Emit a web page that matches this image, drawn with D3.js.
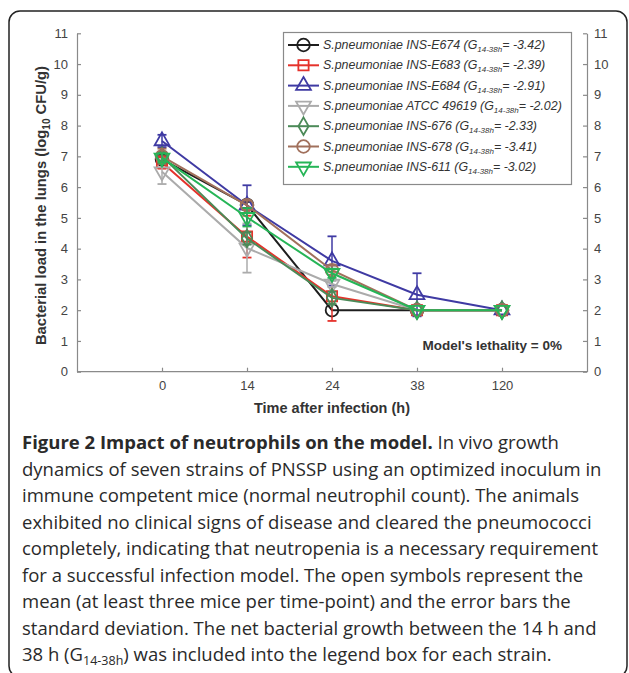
<!DOCTYPE html>
<html>
<head>
<meta charset="utf-8">
<script src="https://cdn.jsdelivr.net/npm/d3@7"></script>
<style>
  body { margin: 0; background: #fff; }
  svg { display: block; }
</style>
</head>
<body>
<script>
// time points (categorical axis)
var times = ["0", "14", "24", "38", "120"];

var strains = ["S.pneumoniae INS-E674", "S.pneumoniae INS-E683", "S.pneumoniae INS-E684",
  "S.pneumoniae ATCC 49619", "S.pneumoniae INS-676", "S.pneumoniae INS-678", "S.pneumoniae INS-611"];
var gValues = ["-3.42", "-2.39", "-2.91", "-2.02", "-2.33", "-3.41", "-3.02"];
var colors = ["#1e1e1e", "#e5322b", "#3f3aa3", "#ababab", "#4b8a58", "#a1705c", "#26b557"];
var symbols = ["circle", "square", "triangleUp", "triangleDown", "diamond", "circle", "triangleDown"];

// mean log10 CFU/g
var e674 = [6.9, 5.42, 2.0, 2.0, 2.0];
var e683 = [6.8, 4.39, 2.45, 2.0, 2.0];
var e684 = [7.5, 5.41, 3.6, 2.5, 2.0];
var atcc = [6.5, 4.02, 2.85, 2.0, 2.0];
var i676 = [7.0, 4.33, 2.4, 2.0, 2.0];
var i678 = [7.0, 5.41, 3.3, 2.0, 2.0];
var i611 = [6.95, 5.02, 3.2, 2.0, 2.0];

// standard deviations
var e674sd = [0.15, 0.1, 0, 0, 0];
var e683sd = [0.2, 0.68, 0.8, 0, 0];
var e684sd = [0.2, 0.65, 0.8, 0.7, 0];
var atccsd = [0.4, 0.8, 0.1, 0, 0];
var i676sd = [0.15, 0.2, 0.2, 0, 0];
var i678sd = [0.25, 0.15, 0.15, 0, 0];
var i611sd = [0.15, 0.3, 0.15, 0, 0];

var means = [e674, e683, e684, atcc, i676, i678, i611];
var sds = [e674sd, e683sd, e684sd, atccsd, i676sd, i678sd, i611sd];

var captionLines = [
  "dynamics of seven strains of PNSSP using an optimized inoculum in",
  "immune competent mice (normal neutrophil count). The animals",
  "exhibited no clinical signs of disease and cleared the pneumococci",
  "completely, indicating that neutropenia is a necessary requirement",
  "for a successful infection model. The open symbols represent the",
  "mean (at least three mice per time-point) and the error bars the",
  "standard deviation. The net bacterial growth between the 14 h and"
];

var width = 629, height = 673;
var margin = {left: 77, right: 42, top: 33.3, bottom: 301.3};

var svg = d3.select("body").append("svg")
  .attr("width", width)
  .attr("height", height);

// outer frame
svg.append("rect")
  .attr("x", 9).attr("y", 11)
  .attr("width", 618).attr("height", 666)
  .attr("rx", 11)
  .attr("fill", "none")
  .attr("stroke", "#222")
  .attr("stroke-width", 1.5);

var x = d3.scalePoint().domain(times).range([margin.left, width - margin.right]).padding(1);
var y = d3.scaleLinear().domain([0, 11]).range([height - margin.bottom, margin.top]);

function styleAxis(g){
  g.selectAll("path, line").attr("stroke", "#8a8a8a").attr("stroke-width", 1.2);
  g.selectAll("text").attr("fill", "#444").attr("font-size", 13)
    .attr("font-family", "Liberation Sans, Arial, sans-serif");
}

svg.append("g")
  .attr("transform", "translate(" + margin.left + ",0)")
  .call(d3.axisLeft(y).ticks(11).tickSize(-4).tickSizeOuter(0).tickPadding(9))
  .call(styleAxis);

svg.append("g")
  .attr("transform", "translate(" + (width - margin.right) + ",0)")
  .call(d3.axisRight(y).ticks(11).tickSize(-4).tickSizeOuter(0).tickPadding(7))
  .call(styleAxis);

var xAxis = d3.axisBottom(x).tickSize(-4).tickSizeOuter(0).tickPadding(9);
var xg = svg.append("g")
  .attr("transform", "translate(0," + y(0) + ")")
  .call(xAxis)
  .call(styleAxis);
xg.select(".domain").attr("d", "M" + margin.left + ",0H" + (width - margin.right));

// axis titles
var yt = svg.append("text")
  .attr("transform", "translate(46," + ((y(0) + y(11)) / 2 + 3) + ") rotate(-90)")
  .attr("text-anchor", "middle")
  .attr("font-family", "Liberation Sans, Arial, sans-serif")
  .attr("font-weight", "bold")
  .attr("font-size", 14.8)
  .attr("fill", "#333");
yt.append("tspan").text("Bacterial load in the lungs (log");
yt.append("tspan").attr("font-size", 10).attr("dy", 4).text("10");
yt.append("tspan").attr("dy", -4).text(" CFU/g)");

svg.append("text")
  .attr("x", (margin.left + width - margin.right) / 2)
  .attr("y", 413)
  .attr("text-anchor", "middle")
  .attr("font-family", "Liberation Sans, Arial, sans-serif")
  .attr("font-weight", "bold")
  .attr("font-size", 14.5)
  .attr("fill", "#333")
  .text("Time after infection (h)");

svg.append("text")
  .attr("x", 562)
  .attr("y", 350)
  .attr("text-anchor", "end")
  .attr("font-family", "Liberation Sans, Arial, sans-serif")
  .attr("font-weight", "bold")
  .attr("font-size", 13.5)
  .attr("fill", "#333")
  .text("Model's lethality = 0%");

var symType = {
  circle: d3.symbolCircle, square: d3.symbolSquare, triangleUp: d3.symbolTriangle,
  triangleDown: d3.symbolTriangle, diamond: d3.symbolDiamond
};
var symSize = {circle: 125, square: 105, triangleUp: 95, triangleDown: 95, diamond: 90};

function drawMarker(g, kind, color, cx, cy){
  g.append("path")
    .attr("d", d3.symbol().type(symType[kind]).size(symSize[kind])())
    .attr("transform", "translate(" + cx + "," + cy + ")" + (kind === "triangleDown" ? " rotate(180)" : ""))
    .attr("fill", "none")
    .attr("stroke", color)
    .attr("stroke-width", 1.8);
}

var line = d3.line()
  .x(function(d, i){ return x(times[i]); })
  .y(function(d){ return y(d); });

var plot = svg.append("g");

means.forEach(function(m, k){
  var g = plot.append("g");
  // error bars
  m.forEach(function(v, i){
    var sd = sds[k][i];
    if (sd <= 0) return;
    var cx = x(times[i]);
    g.append("line")
      .attr("x1", cx).attr("x2", cx)
      .attr("y1", y(v - sd)).attr("y2", y(v + sd))
      .attr("stroke", colors[k]).attr("stroke-width", 1.5);
    [v - sd, v + sd].forEach(function(e){
      g.append("line")
        .attr("x1", cx - 4.5).attr("x2", cx + 4.5)
        .attr("y1", y(e)).attr("y2", y(e))
        .attr("stroke", colors[k]).attr("stroke-width", 1.8);
    });
  });
  g.append("path")
    .attr("d", line(m))
    .attr("fill", "none")
    .attr("stroke", colors[k])
    .attr("stroke-width", 2);
  m.forEach(function(v, i){
    drawMarker(g, symbols[k], colors[k], x(times[i]), y(v));
  });
});

// legend
var legend = svg.append("g");
legend.append("rect")
  .attr("x", 283.5).attr("y", 32.5)
  .attr("width", 288).attr("height", 152)
  .attr("fill", "#fff")
  .attr("stroke", "#8a8a8a")
  .attr("stroke-width", 1.2);

strains.forEach(function(s, k){
  var ly = 45 + k * 20.3;
  legend.append("line")
    .attr("x1", 288).attr("x2", 319)
    .attr("y1", ly).attr("y2", ly)
    .attr("stroke", colors[k]).attr("stroke-width", 2);
  drawMarker(legend, symbols[k], colors[k], 303.5, ly);
  var t = legend.append("text")
    .attr("x", 323).attr("y", ly + 4)
    .attr("font-family", "Liberation Sans, Arial, sans-serif")
    .attr("font-style", "italic")
    .attr("font-size", 12.4)
    .attr("fill", "#333");
  t.append("tspan").text(s + " (G");
  t.append("tspan").attr("font-size", 8).attr("dy", 3).text("14-38h");
  t.append("tspan").attr("dy", -3).text("= " + gValues[k] + ")");
});

// caption
var capFont = "Open Sans, Noto Sans, sans-serif";
var capSize = 18.5;
var first = svg.append("text")
  .attr("x", 22).attr("y", 449)
  .attr("font-family", capFont)
  .attr("font-size", capSize)
  .attr("fill", "#2a2a2a");
first.append("tspan").attr("font-weight", "bold").text("Figure 2 Impact of neutrophils on the model.");
first.append("tspan").text(" In vivo growth");

captionLines.forEach(function(l, i){
  svg.append("text")
    .attr("x", 22).attr("y", 449 + (i + 1) * 26.5)
    .attr("font-family", capFont)
    .attr("font-size", capSize)
    .attr("fill", "#2a2a2a")
    .text(l);
});

var last = svg.append("text")
  .attr("x", 22).attr("y", 449 + 8 * 26.5)
  .attr("font-family", capFont)
  .attr("font-size", capSize)
  .attr("fill", "#2a2a2a");
last.append("tspan").text("38 h (G");
last.append("tspan").attr("font-size", 12.5).attr("dy", 4).text("14-38h");
last.append("tspan").attr("dy", -4).text(") was included into the legend box for each strain.");
</script>
</body>
</html>
